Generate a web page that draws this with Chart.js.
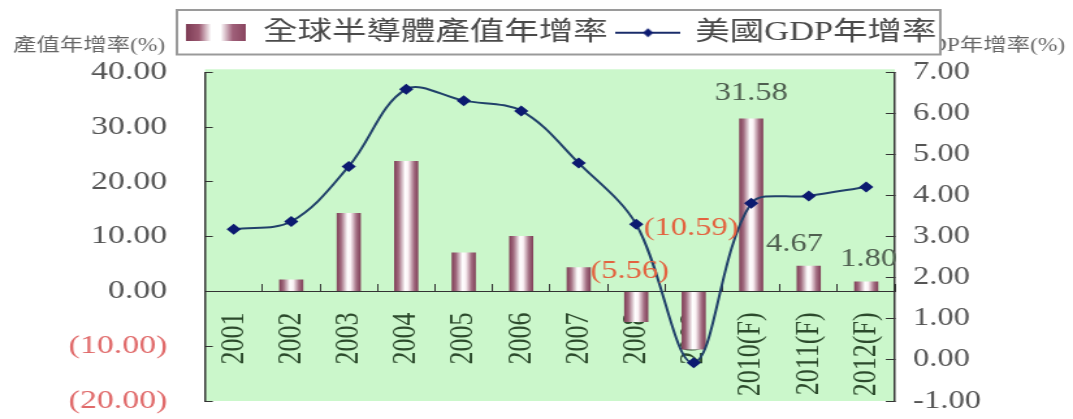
<!DOCTYPE html>
<html>
<head>
<meta charset="utf-8">
<script src="https://cdn.jsdelivr.net/npm/chart.js@4.4.1/dist/chart.umd.min.js"></script>
<style>
html, body { margin: 0; padding: 0; background: #ffffff; overflow: hidden; }
#wrap { position: absolute; left: 0; top: 0; width: 825px; height: 419px; transform: scaleX(1.30061); transform-origin: 0 0; }
</style>
</head>
<body>
<div id="wrap"><canvas id="c"></canvas></div>
<script>
// ---- data ----
const categories = ['2001', '2002', '2003', '2004', '2005', '2006', '2007', '2008', '2009', '2010(F)', '2011(F)', '2012(F)'];
const semiconductorGrowth = [null, 2.2, 14.3, 23.8, 7.1, 10.1, 4.4, -5.56, -10.59, 31.58, 4.67, 1.80];
const usGdpGrowth = [3.18, 3.37, 4.71, 6.59, 6.31, 6.06, 4.79, 3.30, -0.07, 3.81, 3.99, 4.21];
const leftAxisTicks = [-20, -10, 0, 10, 20, 30, 40];
const rightAxisTicks = [-1, 0, 1, 2, 3, 4, 5, 6, 7];
const labeledCategories = ['2008', '2009', '2010(F)', '2011(F)', '2012(F)'];
const seriesNames = ['全球半導體產值年增率', '美國GDP年增率'];
const axisTitles = ['產值年增率(%)', '美國GDP年增率(%)'];

// ---- styling helpers ----
const FONT = "'Liberation Serif', 'Noto Sans CJK TC', serif";
const BAR_PCT = 0.42;
const fmtParen = v => v < 0 ? '(' + Math.abs(v).toFixed(2) + ')' : v.toFixed(2);

function addBarStops(g) {
  g.addColorStop(0, '#7e3c55');
  g.addColorStop(0.18, '#a06a7e');
  g.addColorStop(0.45, '#ffffff');
  g.addColorStop(0.58, '#fbf2f5');
  g.addColorStop(0.82, '#a36e82');
  g.addColorStop(1, '#7e3c55');
}

function barGradient(c) {
  const chart = c.chart;
  const fallback = '#9a5a70';
  const xs = chart.scales && chart.scales.x;
  if (!xs || c.type !== 'data' || !chart.chartArea) return fallback;
  const cx = xs.getPixelForValue(c.dataIndex);
  const w = (xs.right - xs.left) / categories.length * BAR_PCT;
  if (!isFinite(cx) || !isFinite(w) || w <= 0) return fallback;
  const g = chart.ctx.createLinearGradient(cx - w / 2, 0, cx + w / 2, 0);
  addBarStops(g);
  return g;
}

// legend symbols
const swatch = document.createElement('canvas');
swatch.width = 46; swatch.height = 17;
(function () {
  const x = swatch.getContext('2d');
  const g = x.createLinearGradient(0, 0, 46, 0);
  g.addColorStop(0, '#7e3c55');
  g.addColorStop(0.22, '#9c5a72');
  g.addColorStop(0.42, '#ffffff');
  g.addColorStop(0.58, '#ffffff');
  g.addColorStop(0.78, '#a0607a');
  g.addColorStop(1, '#8a4660');
  x.fillStyle = g;
  x.fillRect(0, 0, 46, 17);
})();
const lineSym = document.createElement('canvas');
lineSym.width = 50; lineSym.height = 12;
(function () {
  const x = lineSym.getContext('2d');
  x.strokeStyle = '#1a2c6a'; x.lineWidth = 2;
  x.beginPath(); x.moveTo(0, 6); x.lineTo(50, 6); x.stroke();
  x.fillStyle = '#0c1a70';
  x.beginPath(); x.moveTo(25, 1.5); x.lineTo(29, 6); x.lineTo(25, 10.5); x.lineTo(21, 6); x.closePath(); x.fill();
})();

const decorPlugin = {
  id: 'decor',
  beforeDraw(chart) {
    const { ctx, chartArea: a } = chart;
    ctx.save();
    ctx.fillStyle = '#cbf7cb';
    ctx.fillRect(a.left, a.top - 3, a.right - a.left, a.bottom - a.top + 3);
    // axis titles
    ctx.font = '18px ' + FONT;
    ctx.fillStyle = '#666666';
    ctx.textBaseline = 'middle';
    ctx.textAlign = 'right';
    ctx.fillText(axisTitles[0], a.left - 30.6, 46);
    ctx.fillText(axisTitles[1], chart.width - 6, 46);
    // legend frame
    const lg = chart.legend;
    if (lg && lg.legendHitBoxes && lg.legendHitBoxes.length) {
      const hb = lg.legendHitBoxes;
      const x0 = Math.min(...hb.map(h => h.left)) - 7;
      const x1 = Math.max(...hb.map(h => h.left + h.width)) + 3;
      const y0 = lg.top - 1.5, y1 = lg.bottom - 1.5;
      ctx.fillStyle = '#ffffff';
      ctx.fillRect(x0, y0, x1 - x0, y1 - y0);
      ctx.strokeStyle = '#9a9a9a';
      ctx.lineWidth = 2;
      ctx.strokeRect(x0, y0, x1 - x0, y1 - y0);
    }
    ctx.restore();
  },
  afterDatasetsDraw(chart) {
    const { ctx } = chart;
    const meta = chart.getDatasetMeta(0);
    const ys = chart.scales.y;
    const zero = ys.getPixelForValue(0);
    const tweak = { '2008': [-5, -20], '2009': [-2, -63], '2010(F)': [0, -25], '2011(F)': [-11, -21], '2012(F)': [2, -22] };
    ctx.save();
    ctx.font = '25px ' + FONT;
    ctx.textAlign = 'center';
    ctx.textBaseline = 'middle';
    labeledCategories.forEach(cat => {
      const i = categories.indexOf(cat);
      const v = semiconductorGrowth[i];
      const el = meta.data[i];
      if (!el || v == null) return;
      const t = tweak[cat] || [0, -22];
      const y = v >= 0 ? el.y + t[1] : zero + t[1];
      ctx.fillStyle = v >= 0 ? '#4f5f50' : '#e3623f';
      ctx.fillText(fmtParen(v), el.x + t[0], y);
    });
    ctx.restore();
  }
};

new Chart(document.getElementById('c'), {
  data: {
    labels: categories,
    datasets: [
      {
        type: 'bar',
        label: seriesNames[0],
        data: semiconductorGrowth,
        yAxisID: 'y',
        backgroundColor: barGradient,
        borderWidth: 0,
        barPercentage: BAR_PCT,
        categoryPercentage: 1,
        order: 1
      },
      {
        type: 'line',
        label: seriesNames[1],
        data: usGdpGrowth,
        yAxisID: 'y1',
        borderColor: '#21416a',
        borderWidth: 2,
        tension: 0.35,
        pointStyle: 'rectRot',
        pointRadius: 5.5,
        pointBackgroundColor: '#0c1a70',
        pointBorderColor: '#0c1a70',
        pointBorderWidth: 0,
        order: 0
      }
    ]
  },
  options: {
    responsive: true,
    maintainAspectRatio: false,
    animation: false,
    events: [],
    layout: { padding: { top: 11.5, left: 38, right: 0, bottom: 0 } },
    plugins: {
      tooltip: { enabled: false },
      legend: {
        display: true,
        position: 'top',
        align: 'center',
        labels: {
          usePointStyle: true,
          pointStyleWidth: 46,
          padding: 8,
          color: '#4a4a4a',
          font: { family: FONT, size: 26.5 },
          generateLabels(chart) {
            const items = Chart.defaults.plugins.legend.labels.generateLabels(chart);
            items.sort((a, b) => a.datasetIndex - b.datasetIndex);
            items.forEach(it => {
              it.pointStyle = it.datasetIndex === 0 ? swatch : lineSym;
              it.lineWidth = 0;
              it.fontColor = '#4a4a4a';
            });
            return items;
          }
        }
      }
    },
    scales: {
      x: {
        type: 'category',
        position: { y: 0 },
        offset: true,
        grid: { display: true, drawOnChartArea: false, drawTicks: true, tickLength: -8, offset: true, color: '#333333', lineWidth: 1 },
        border: { display: true, color: '#333333', width: 1 },
        ticks: {
          autoSkip: false, minRotation: 90, maxRotation: 90, padding: 29,
          color: '#2c4a2c',
          font: { family: FONT, size: 26 }
        },
        afterFit(s) { s.height = 0; s.paddingLeft = 0; s.paddingRight = 0; }
      },
      xGap: {
        type: 'category',
        position: 'top',
        display: true,
        grid: { display: false },
        border: { display: false },
        ticks: { display: false },
        afterFit(s) { s.height = 16.3; s.paddingLeft = 0; s.paddingRight = 0; }
      },
      y: {
        type: 'linear',
        position: 'left',
        min: -20, max: 40,
        afterBuildTicks(s) { s.ticks = leftAxisTicks.map(v => ({ value: v })); },
        grid: { drawOnChartArea: false, drawTicks: true, tickLength: -6, color: '#333333' },
        border: { display: true, color: '#333333', width: 1.5 },
        ticks: {
          padding: 35,
          font: { family: FONT, size: 26 },
          color: c => (c.tick && c.tick.value < 0) ? '#e06a6a' : '#555555',
          callback: v => fmtParen(v)
        },
        afterFit(s) { s.width = 119.6; s.paddingBottom = 18; }
      },
      y1: {
        type: 'linear',
        position: 'right',
        min: -1, max: 7,
        afterBuildTicks(s) { s.ticks = rightAxisTicks.map(v => ({ value: v })); },
        grid: { drawOnChartArea: false, drawTicks: true, tickLength: -7, color: '#333333' },
        border: { display: true, color: '#333333', width: 1.5 },
        ticks: {
          padding: 21,
          font: { family: FONT, size: 25 },
          color: '#555555',
          callback: v => Number(v).toFixed(2)
        },
        afterFit(s) { s.width = 136.9; s.paddingBottom = 18; }
      }
    }
  },
  plugins: [decorPlugin]
});
</script>
</body>
</html>
